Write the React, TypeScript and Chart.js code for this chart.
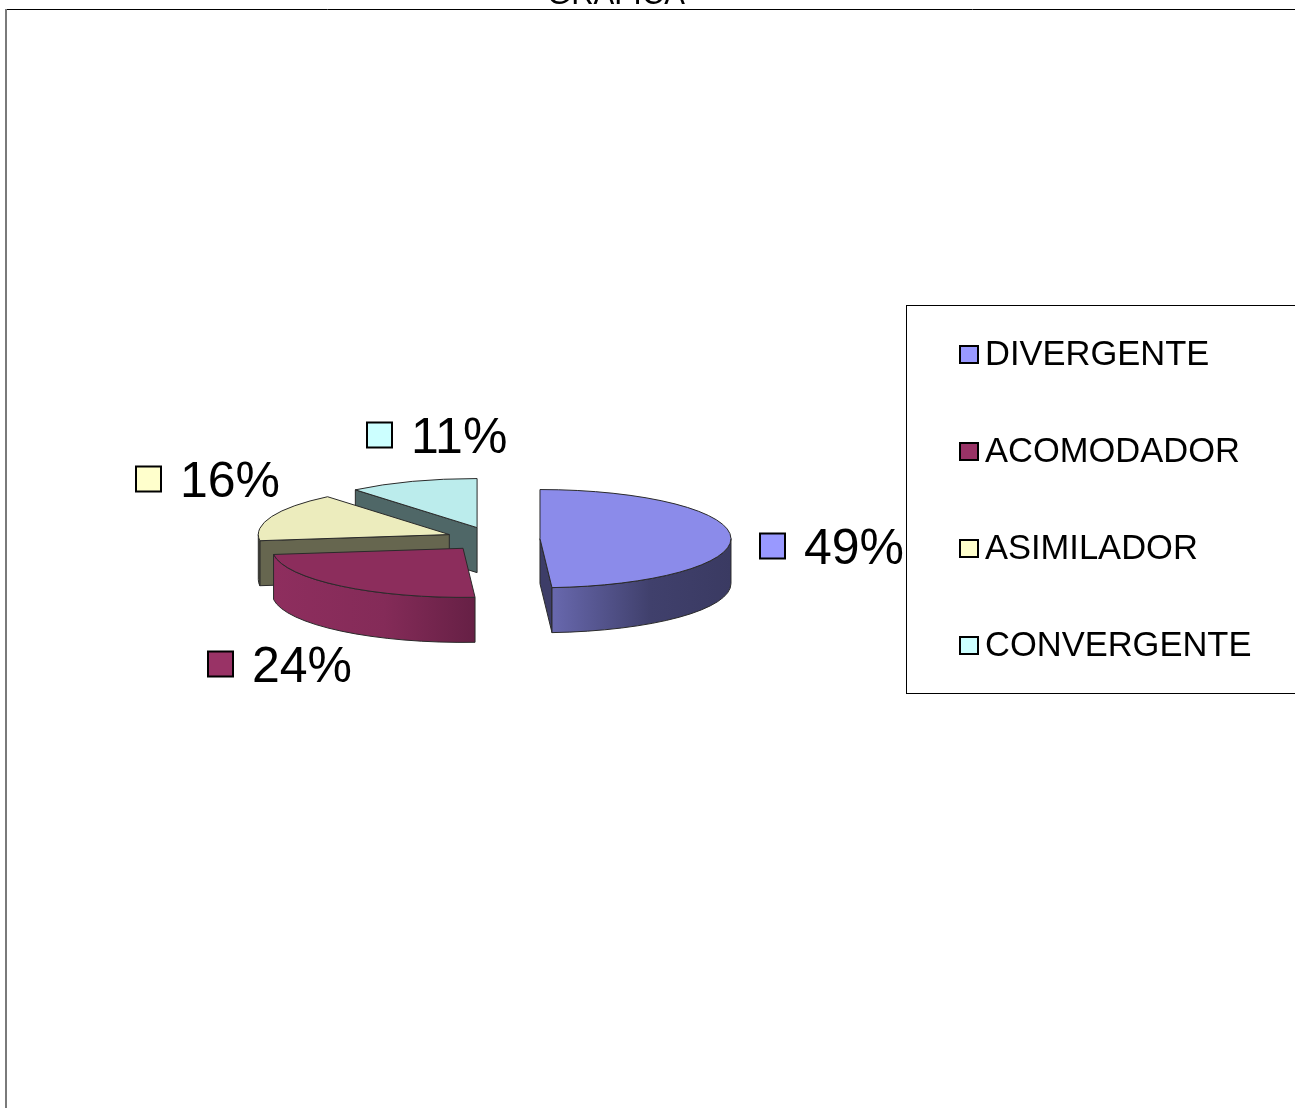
import React, { useEffect, useRef } from 'react';
import { Chart, registerables } from 'chart.js';

Chart.register(...registerables);

// ---------- data ----------
const categories = ['DIVERGENTE', 'ACOMODADOR', 'ASIMILADOR', 'CONVERGENTE'];
const percentages = [49, 24, 16, 11];
const titleText = 'GRÁFICA';

// ---------- styles ----------
const legendColors = ['#9999ff', '#993366', '#ffffcc', '#ccffff'];
const topColors = ['#8b8bea', '#8c2d5c', '#ececbd', '#bbecec'];
const wallLight = ['#6868ae', '#8e2e5e', '#6b6b52', '#526b6b'];
const wallMid = ['#40406c', '#842b58', '#66664f', '#4f6767'];
const wallDark = ['#3a3a62', '#662045', '#5f5f4a', '#4a6262'];
const sideColors = ['#3d3d68', '#6a2146', '#66664f', '#4f6767'];

const W = 1295;
const H = 1108;
const FONT = '"Liberation Sans", Arial, Helvetica, sans-serif';
const PIE = { cx: 493, cy: 539, rx: 191, tilt: 0.257, depth: 45, explode: 47 };
// data-label placement: [left of swatch, vertical centre]
const LABEL_POS: [number, number][] = [[760, 546], [208, 664], [136, 479], [367, 435]];
const LEGEND = { left: 906.5, top: 305.5, height: 388, firstRow: 354.5, rowGap: 97, swatchX: 960, textX: 984 };

const pie3d = {
  id: 'pie3d',
  beforeDatasetsDraw(chart: any) {
    const ctx: CanvasRenderingContext2D = chart.ctx;
    const meta = chart.getDatasetMeta(0);
    const arcs: any[] = meta.data;
    const { cx, cy, rx, tilt, depth, explode } = PIE;
    const ry = rx * tilt;
    const geo = arcs.map((arc, i) => {
      const s = arc.startAngle;
      const e = arc.endAngle;
      const h = (s + e) / 2;
      return {
        arc, i, s, e, h,
        ax: cx + explode * Math.cos(h),
        ay: cy + explode * tilt * Math.sin(h),
      };
    });
    const order = [...geo].sort((a, b) => Math.sin(a.h) - Math.sin(b.h));
    for (const g of order) {
      const { arc, i, s, e, ax, ay } = g;
      const rim = (a: number, z: number) => [ax + rx * Math.cos(a), ay + ry * Math.sin(a) + z];
      ctx.save();
      ctx.lineWidth = 1;
      ctx.strokeStyle = '#2a2a2a';
      ctx.lineJoin = 'round';
      const radial = (a: number) => {
        const p = rim(a, 0);
        ctx.beginPath();
        ctx.moveTo(ax, ay);
        ctx.lineTo(p[0], p[1]);
        ctx.lineTo(p[0], p[1] + depth);
        ctx.lineTo(ax, ay + depth);
        ctx.closePath();
        ctx.fillStyle = sideColors[i];
        ctx.fill();
        ctx.stroke();
      };
      if (Math.cos(s) < -1e-3) radial(s);
      if (Math.cos(e) > 1e-3) radial(e);
      const a0 = Math.max(s, 0);
      const a1 = Math.min(e, Math.PI);
      if (a1 > a0) {
        ctx.beginPath();
        ctx.ellipse(ax, ay, rx, ry, 0, a0, a1, false);
        ctx.ellipse(ax, ay + depth, rx, ry, 0, a1, a0, true);
        ctx.closePath();
        const xl = ax + rx * Math.cos(a1);
        const xr = ax + rx * Math.cos(a0);
        const grad = ctx.createLinearGradient(xl, 0, Math.max(xr, xl + 1), 0);
        grad.addColorStop(0, wallLight[i]);
        grad.addColorStop(0.55, wallMid[i]);
        grad.addColorStop(1, wallDark[i]);
        ctx.fillStyle = grad;
        ctx.fill();
        ctx.stroke();
      }
      // top face, drawn by the library's arc element, projected
      ctx.save();
      ctx.translate(ax, ay);
      const sc = rx / arc.outerRadius;
      ctx.scale(sc, sc * tilt);
      ctx.translate(-arc.x, -arc.y);
      arc.draw(ctx);
      ctx.restore();
      // outline of top face
      ctx.beginPath();
      ctx.moveTo(ax, ay);
      ctx.ellipse(ax, ay, rx, ry, 0, s, e, false);
      ctx.closePath();
      ctx.stroke();
      ctx.restore();
    }
    return false;
  },
};

const decorations = {
  id: 'decorations',
  afterDraw(chart: any) {
    const ctx: CanvasRenderingContext2D = chart.ctx;
    ctx.save();
    // frame
    ctx.strokeStyle = '#000';
    ctx.lineWidth = 1;
    ctx.beginPath();
    ctx.moveTo(5, 9.5);
    ctx.lineTo(W, 9.5);
    ctx.stroke();
    ctx.strokeStyle = '#7a7a7a';
    ctx.lineWidth = 2;
    ctx.beginPath();
    ctx.moveTo(6, 9);
    ctx.lineTo(6, H);
    ctx.stroke();

    // title (mostly above the visible area)
    ctx.fillStyle = '#000';
    ctx.font = `31px ${FONT}`;
    ctx.textAlign = 'center';
    ctx.textBaseline = 'alphabetic';
    ctx.fillText(titleText, 616, 3.5);

    // legend
    ctx.strokeStyle = '#000';
    ctx.lineWidth = 1;
    ctx.strokeRect(LEGEND.left, LEGEND.top, W, LEGEND.height);
    ctx.textAlign = 'left';
    ctx.font = `34.5px ${FONT}`;
    categories.forEach((c, i) => {
      const y = LEGEND.firstRow + i * LEGEND.rowGap;
      ctx.fillStyle = legendColors[i];
      ctx.fillRect(LEGEND.swatchX, y - 8.5, 18, 17);
      ctx.lineWidth = 2;
      ctx.strokeStyle = '#000';
      ctx.strokeRect(LEGEND.swatchX, y - 8.5, 18, 17);
      ctx.fillStyle = '#000';
      ctx.fillText(c, LEGEND.textX + 1, y + 10.5);
    });

    // data labels
    const total = percentages.reduce((a, b) => a + b, 0);
    ctx.font = `50px ${FONT}`;
    percentages.forEach((v, i) => {
      const [sx, cy] = LABEL_POS[i];
      ctx.fillStyle = legendColors[i];
      ctx.fillRect(sx, cy - 12.5, 25, 25);
      ctx.lineWidth = 2;
      ctx.strokeStyle = '#000';
      ctx.strokeRect(sx, cy - 12.5, 25, 25);
      ctx.fillStyle = '#000';
      ctx.fillText(`${Math.round((v / total) * 100)}%`, sx + 44, cy + 17.5);
    });
    ctx.restore();
  },
};

export default function App() {
  const canvasRef = useRef<HTMLCanvasElement | null>(null);
  useEffect(() => {
    const canvas = canvasRef.current;
    if (!canvas) return;
    const chart = new Chart(canvas, {
      type: 'pie',
      data: {
        labels: categories,
        datasets: [
          {
            data: percentages,
            backgroundColor: topColors,
            borderWidth: 0,
            offset: 0,
          },
        ],
      },
      options: {
        responsive: false,
        animation: false,
        devicePixelRatio: 1,
        events: [],
        layout: { padding: 0 },
        plugins: {
          legend: { display: false },
          tooltip: { enabled: false },
          title: { display: false },
        },
      },
      plugins: [pie3d, decorations],
    } as any);
    return () => chart.destroy();
  }, []);
  return (
    <div style={{ position: 'absolute', left: 0, top: 0, width: W, height: H, background: '#fff', overflow: 'hidden' }}>
      <canvas ref={canvasRef} width={W} height={H} style={{ display: 'block' }} />
    </div>
  );
}
